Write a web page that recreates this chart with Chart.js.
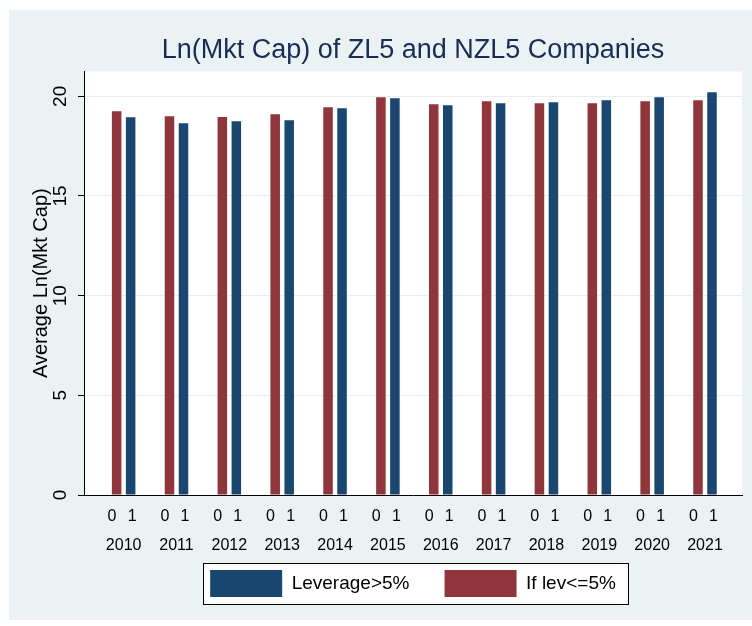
<!DOCTYPE html>
<html>
<head>
<meta charset="utf-8">
<script src="https://cdn.jsdelivr.net/npm/chart.js@4.4.1/dist/chart.umd.min.js"></script>
<style>
  body { margin: 0; background: #fff; }
  canvas { display: block; }
</style>
</head>
<body>
<canvas id="myChart" width="752" height="626"></canvas>
<script>
const years = [2010, 2011, 2012, 2013, 2014, 2015, 2016, 2017, 2018, 2019, 2020, 2021];
const groupLabels = ["0", "1"];
const groupOffsets = [-0.22, 0.16]; // where the 0 / 1 labels sit round each year
// group 0: If lev<=5%  (red)
const lowLev = [19.25, 19.0, 18.96, 19.1, 19.45, 19.95, 19.6, 19.75, 19.65, 19.65, 19.75, 19.8];
// group 1: Leverage>5%  (blue)
const highLev = [18.95, 18.65, 18.75, 18.8, 19.4, 19.9, 19.55, 19.65, 19.7, 19.8, 19.95, 20.2];
const yTicks = [0, 5, 10, 15, 20];

const font = "'Liberation Sans', Arial, sans-serif";
const xMin = -0.75;
const xMax = 11.7;

// stata-ish background: white border, pale frame, white plot region
const backdrop = {
  id: "backdrop",
  beforeDraw(chart) {
    const ctx = chart.ctx;
    const a = chart.chartArea;
    ctx.save();
    ctx.fillStyle = "#ffffff";
    ctx.fillRect(0, 0, chart.width, chart.height);
    ctx.fillStyle = "#eaf2f3";
    ctx.fillRect(9, 10, chart.width - 9, 610);
    ctx.fillStyle = "#ffffff";
    ctx.fillRect(a.left, a.top, a.right - a.left, a.bottom - a.top);
    ctx.restore();
  },
};

// white box with a black frame round the legend items (drawn before the legend)
const legendBox = {
  id: "legendBox",
  beforeDraw(chart) {
    const boxes = chart.legend.legendHitBoxes;
    if (!boxes || !boxes.length) return;
    const left = Math.round(Math.min(...boxes.map((b) => b.left)) - 7);
    const right = Math.round(Math.max(...boxes.map((b) => b.left + b.width)) + 12);
    const top = Math.round(Math.min(...boxes.map((b) => b.top)) - 7);
    const bottom = Math.round(Math.max(...boxes.map((b) => b.top + b.height)) + 7);
    const ctx = chart.ctx;
    ctx.save();
    ctx.fillStyle = "#ffffff";
    ctx.fillRect(left, top, right - left, bottom - top);
    ctx.strokeStyle = "#000";
    ctx.lineWidth = 1;
    ctx.strokeRect(left + 0.5, top + 0.5, right - left, bottom - top);
    ctx.restore();
  },
};

const ctx = document.getElementById("myChart").getContext("2d");
const myChart = new Chart(ctx, {
  type: "bar",
  data: {
    datasets: [
      {
        label: "If lev<=5%",
        data: lowLev.map((v, i) => ({ x: i, y: v })),
        backgroundColor: "#90353b",
        xAxisID: "x",
      },
      {
        label: "Leverage>5%",
        data: highLev.map((v, i) => ({ x: i, y: v })),
        backgroundColor: "#1a476f",
        xAxisID: "x",
      },
    ],
  },
  options: {
    responsive: false,
    animation: false,
    barPercentage: 0.68,
    categoryPercentage: 0.53,
    layout: { padding: { left: 0, right: 10, top: 0, bottom: 19 } },
    plugins: {
      title: {
        display: true,
        fullSize: false,
        text: "Ln(Mkt Cap) of ZL5 and NZL5 Companies",
        color: "#1a2b55",
        font: { family: font, size: 27, weight: "normal" },
        padding: { top: 34, bottom: 5 },
      },
      legend: {
        position: "bottom",
        fullSize: false,
        reverse: true,
        labels: {
          boxWidth: 72,
          boxHeight: 27,
          color: "#000",
          padding: 14,
          font: { family: font, size: 19 },
          // wider gap after the first key, padding alone would also push the legend down
          generateLabels(chart) {
            const items = Chart.defaults.plugins.legend.labels.generateLabels(chart);
            items.forEach((item) => {
              if (item.datasetIndex === 1) item.text = item.text + "    ";
            });
            return items;
          },
        },
      },
      tooltip: { enabled: false },
    },
    scales: {
      // 0 / 1 row, no data on it
      xsub: {
        type: "linear",
        position: "bottom",
        min: xMin,
        max: xMax,
        offset: false,
        grid: { display: false, drawTicks: false },
        border: { display: true, color: "#000", width: 1 },
        afterBuildTicks(axis) {
          axis.ticks = years.flatMap((y, i) => groupOffsets.map((o) => ({ value: i + o })));
        },
        afterFit(axis) {
          axis.height = 30;
        },
        ticks: {
          autoSkip: false,
          maxRotation: 0,
          padding: 12,
          color: "#000",
          font: { family: font, size: 16 },
          callback: (value, index) => groupLabels[index % 2],
        },
      },
      // bar axis, year row
      x: {
        type: "linear",
        position: "bottom",
        min: xMin,
        max: xMax,
        offset: false,
        grid: { display: false, drawTicks: false },
        border: { display: false },
        afterBuildTicks(axis) {
          axis.ticks = years.map((y, i) => ({ value: i }));
        },
        afterFit(axis) {
          axis.height = 31;
        },
        ticks: {
          autoSkip: false,
          maxRotation: 0,
          padding: 11,
          color: "#000",
          font: { family: font, size: 16 },
          callback: (value, index) => String(years[index]),
        },
      },
      y: {
        min: 0,
        max: 21.25,
        afterBuildTicks(axis) {
          axis.ticks = yTicks.map((v) => ({ value: v }));
        },
        afterFit(axis) {
          axis.width = 84;
        },
        grid: { color: "#e6eef1", tickColor: "#000", tickLength: 6 },
        border: { display: true, color: "#000", width: 1 },
        ticks: {
          minRotation: 90,
          maxRotation: 90,
          crossAlign: "center",
          padding: 7,
          color: "#000",
          font: { family: font, size: 19 },
        },
        title: {
          display: true,
          text: "Average Ln(Mkt Cap)",
          color: "#000",
          font: { family: font, size: 20 },
          padding: { top: 29, bottom: 0 },
        },
      },
    },
  },
  plugins: [backdrop, legendBox],
});
</script>
</body>
</html>
